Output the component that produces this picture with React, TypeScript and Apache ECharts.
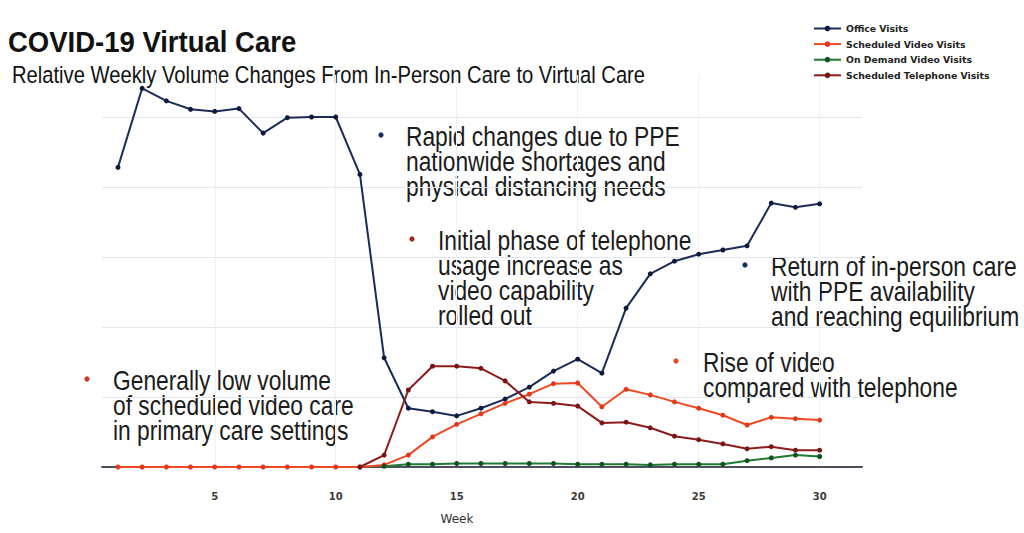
import React, { useEffect, useRef } from "react";
import * as echarts from "echarts";

// ---------- data ----------
const weeks = [1, 2, 3, 4, 5, 6, 7, 8, 9, 10, 11, 12, 13, 14, 15, 16, 17, 18, 19, 20, 21, 22, 23, 24, 25, 26, 27, 28, 29, 30];
const officeVisits = [4.28, 5.41, 5.23, 5.11, 5.08, 5.12, 4.77, 4.99, 5.0, 5.0, 4.18, 1.56, 0.84, 0.79, 0.73, 0.84, 0.97, 1.14, 1.37, 1.54, 1.34, 2.27, 2.76, 2.94, 3.04, 3.1, 3.16, 3.77, 3.71, 3.76];
const scheduledVideoVisits = [0, 0, 0, 0, 0, 0, 0, 0, 0, 0, 0, 0.03, 0.17, 0.43, 0.61, 0.76, 0.91, 1.04, 1.19, 1.2, 0.86, 1.11, 1.03, 0.93, 0.84, 0.74, 0.6, 0.71, 0.69, 0.67];
const onDemandVideoVisits = [null, null, null, null, null, null, null, null, null, null, null, 0.01, 0.04, 0.04, 0.05, 0.05, 0.05, 0.05, 0.05, 0.04, 0.04, 0.04, 0.03, 0.04, 0.04, 0.04, 0.09, 0.13, 0.17, 0.15];
const scheduledTelephoneVisits = [null, null, null, null, null, null, null, null, null, null, 0, 0.17, 1.1, 1.44, 1.44, 1.41, 1.23, 0.93, 0.91, 0.87, 0.63, 0.64, 0.56, 0.44, 0.39, 0.33, 0.26, 0.29, 0.24, 0.24];
const seriesNames = ["Office Visits", "Scheduled Video Visits", "On Demand Video Visits", "Scheduled Telephone Visits"];
const xTickValues = [5, 10, 15, 20, 25, 30];
const xAxisName = "Week";

const titleText = "COVID-19 Virtual Care";
const subtitleText = "Relative Weekly Volume Changes From In-Person Care to Virtual Care";
const noteRapidChanges = ["Rapid changes due to PPE", "nationwide shortages and", "physical distancing needs"];
const noteTelephone = ["Initial phase of telephone", "usage increase as", "video capability", "rolled out"];
const noteReturn = ["Return of in-person care", "with PPE availability", "and reaching equilibrium"];
const noteRiseVideo = ["Rise of video", "compared with telephone"];
const noteLowVolume = ["Generally low volume", "of scheduled video care", "in primary care settings"];

const pairs = (vals: (number | null)[]) => weeks.map((w, i) => [w, vals[i]]);

export default function App() {
  const ref = useRef<HTMLDivElement>(null);

  useEffect(() => {
    if (!ref.current) return;
    const chart = echarts.init(ref.current, undefined, { renderer: "svg" });

    const colors = ["#1c2a58", "#ee4a22", "#1f7a34", "#8c1c1c"];
    const markerColors = ["#101a3c", "#e2391c", "#11501f", "#7a1414"];
    const values = [officeVisits, scheduledVideoVisits, onDemandVideoVisits, scheduledTelephoneVisits];

    const series = seriesNames.map((name, i) => ({
      name,
      type: "line",
      data: pairs(values[i]),
      symbol: "circle",
      symbolSize: 5,
      showSymbol: true,
      clip: false,
      connectNulls: false,
      lineStyle: { color: colors[i], width: 2 },
      itemStyle: { color: markerColors[i] },
      emphasis: { disabled: true },
    }));

    const textFont = '22.8px "Liberation Sans", Arial, sans-serif';
    const lh = 21.2;
    const sy = 25 / lh;
    const notes = [
      { lines: noteRapidChanges, bx: 381, by: 135, tx: 406, color: "#1c2a58" },
      { lines: noteTelephone, bx: 412, by: 239, tx: 438, color: "#a0281c" },
      { lines: noteReturn, bx: 745, by: 265, tx: 771, color: "#1c2a58" },
      { lines: noteRiseVideo, bx: 676, by: 361, tx: 703, color: "#e24a24" },
      { lines: noteLowVolume, bx: 87, by: 379, tx: 113, color: "#cf3528" },
    ];

    const graphic: any[] = [
      {
        type: "text",
        x: 8,
        y: 42,
        scaleY: 1.1,
        style: {
          text: titleText,
          font: 'bold 27.5px "Liberation Sans", Arial, sans-serif',
          fill: "#111",
          textVerticalAlign: "middle",
        },
      },
      {
        type: "text",
        x: 12,
        y: 75,
        scaleY: 1.15,
        style: {
          text: subtitleText,
          font: '20.2px "Liberation Sans", Arial, sans-serif',
          fill: "#111",
          textVerticalAlign: "middle",
        },
      },
      {
        type: "text",
        x: 457,
        y: 519,
        style: {
          text: xAxisName,
          font: '12px "DejaVu Sans", sans-serif',
          fill: "#333",
          textAlign: "center",
          textVerticalAlign: "middle",
        },
      },
    ];
    notes.forEach((n) => {
      graphic.push({
        type: "circle",
        shape: { cx: n.bx, cy: n.by, r: 2.6 },
        style: { fill: n.color },
      });
      graphic.push({
        type: "text",
        x: n.tx,
        y: n.by + 1 - (lh / 2) * sy,
        scaleY: sy,
        style: {
          text: n.lines.join("\n"),
          font: textFont,
          lineHeight: lh,
          fill: "#1b1b1b",
          textVerticalAlign: "top",
        },
      });
    });

    chart.setOption({
      animation: false,
      backgroundColor: "#ffffff",
      grid: { left: 102, right: 162, top: 75, bottom: 66, containLabel: false },
      legend: {
        data: seriesNames,
        orient: "vertical",
        left: 808,
        top: 19,
        itemWidth: 27,
        itemHeight: 7,
        itemGap: 6.6,
        selectedMode: false,
        textStyle: {
          fontFamily: '"DejaVu Sans", sans-serif',
          fontWeight: "bold",
          fontSize: 9.3,
          lineHeight: 7,
          color: "#222",
        },
      },
      xAxis: {
        type: "value",
        min: 0.34,
        max: 31.75,
        axisLine: { show: true, onZero: true, lineStyle: { color: "#4b505b", width: 2 } },
        axisTick: { show: false, customValues: xTickValues },
        axisLabel: {
          customValues: xTickValues,
          margin: 24,
          fontFamily: '"DejaVu Sans", sans-serif',
          fontWeight: "bold",
          fontSize: 10,
          color: "#3a3a3a",
        },
        splitLine: { show: true, lineStyle: { color: "#eef1f6", width: 1 } },
      },
      yAxis: {
        type: "value",
        min: 0,
        max: 5.6,
        interval: 1,
        axisLine: { show: false },
        axisTick: { show: false },
        axisLabel: { show: false },
        splitLine: {
          show: true,
          showMinLine: false,
          showMaxLine: false,
          lineStyle: { color: "#e2e7ef", width: 1 },
        },
      },
      series,
      graphic,
    });

    return () => chart.dispose();
  }, []);

  return (
    <div
      ref={ref}
      style={{ position: "fixed", left: 0, top: 0, width: 1024, height: 533, background: "#fff" }}
    />
  );
}
